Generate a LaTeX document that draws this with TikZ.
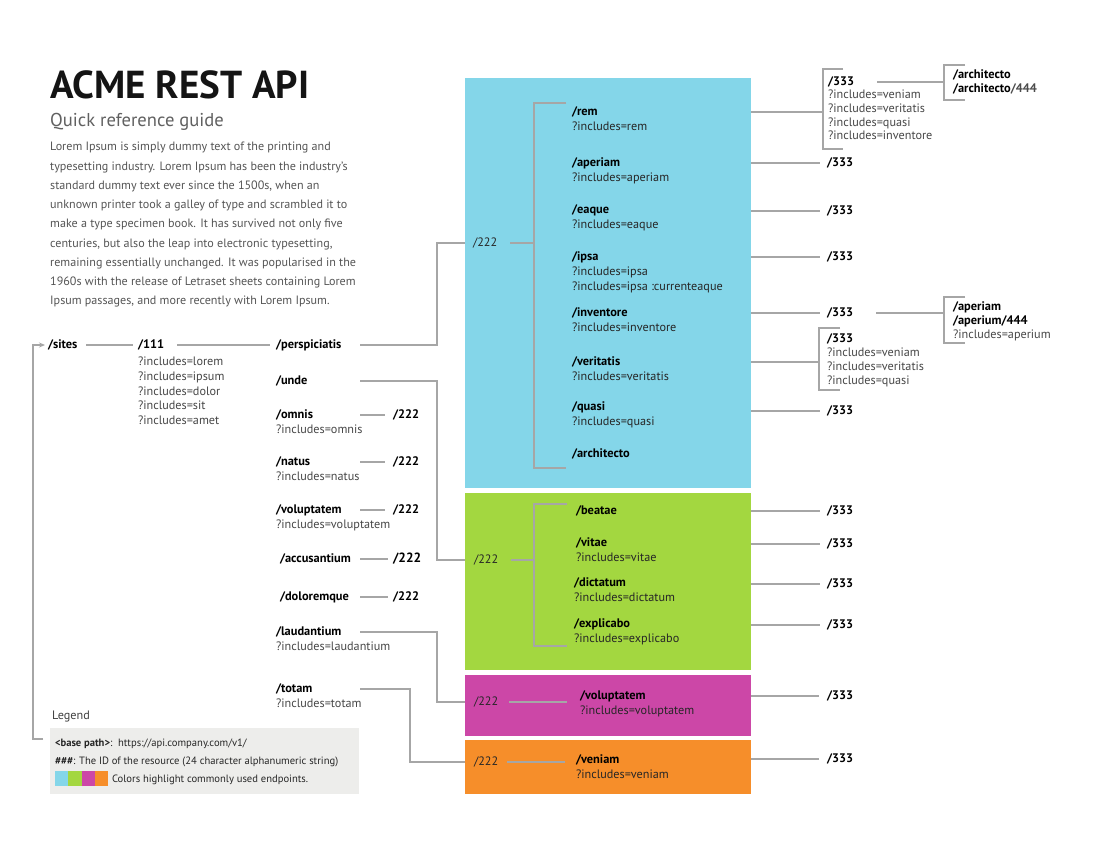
\documentclass[tikz,border=0pt]{standalone}
\usepackage{fontspec}
\setmainfont{PT Sans}
\usetikzlibrary{positioning,arrows.meta}

\definecolor{apiblue}{RGB}{132,214,233}
\definecolor{apigreen}{RGB}{163,215,64}
\definecolor{apipink}{RGB}{204,71,167}
\definecolor{apiorange}{RGB}{246,142,42}
\definecolor{linkgray}{RGB}{166,166,166}
\definecolor{notegray}{RGB}{237,237,235}
\definecolor{copygray}{RGB}{85,85,85}

\begin{document}
\begin{tikzpicture}
    [x=1pt, y=-1pt,
    % STYLES
    % The res style is used for the bold resource names
    res/.style={anchor=west, inner sep=0pt, outer sep=0pt, text height=9pt, text depth=2.8pt, font=\bfseries\fontsize{12.4}{14}\selectfont},
    % The query style is used for the ?includes lines
    query/.style={res, font=\fontsize{12.2}{14}\selectfont, text=black!72},
    % The col style gives the left column names one width
    col/.style={res, text width=84pt, align=left},
    % The grp style is used for the /222 inside the coloured groups
    grp/.style={query, text=black!85},
    % The note style is used for the legend lines
    note/.style={query, font=\fontsize{10.6}{12}\selectfont, text=black!85},
    % The band style is used for the coloured groups
    band/.style={rectangle, anchor=north west, inner sep=0pt, outer sep=0pt, minimum width=286pt},
    % The link style is used for every connector
    link/.style={draw=linkgray, line width=1.3pt}]

    \path[use as bounding box, fill=white] (0,0) rectangle (1100,850);

    % Heading
    \node[anchor=base west, inner sep=0pt, font=\bfseries\fontsize{39}{42}\selectfont, text=black!92] (title) at (50,99) {ACME REST API};
    \node[anchor=base west, inner sep=0pt, font=\fontsize{18.6}{21}\selectfont, text=black!62] (subtitle) at (50,127) {Quick reference guide};
    \node[anchor=north west, inner sep=0pt, align=left, font=\fontsize{12.1}{19.25}\selectfont, text=copygray] (intro) at (50,142) {
    Lorem Ipsum is simply dummy text of the printing and\\
    typesetting industry. Lorem Ipsum has been the industry's\\
    standard dummy text ever since the 1500s, when an\\
    unknown printer took a galley of type and scrambled it to\\
    make a type specimen book. It has survived not only five\\
    centuries, but also the leap into electronic typesetting,\\
    remaining essentially unchanged. It was popularised in the\\
    1960s with the release of Letraset sheets containing Lorem\\
    Ipsum passages, and more recently with Lorem Ipsum.};

    % Coloured groups
    \node[band, fill=apiblue, minimum height=410pt] (blue) at (465,78) {};
    \node[band, fill=apigreen, minimum height=177pt] (green) at (465,493) {};
    \node[band, fill=apipink, minimum height=61pt] (pink) at (465,675) {};
    \node[band, fill=apiorange, minimum height=54pt] (orange) at (465,740) {};

    % Legend
    \node[anchor=base west, inner sep=0pt, font=\fontsize{12.2}{14}\selectfont, text=black!75] (legend) at (52,719) {Legend};
    \node[band, fill=notegray, minimum width=309pt, minimum height=66pt] (notebox) at (50,728) {};
    \node[note] (note1) at (55,743) {\textbf{<base path>}:\ \ https://api.company.com/v1/};
    \node[note] (note2) at (55,761) {\textbf{\#\#\#}: The ID of the resource (24 character alphanumeric string)};
    \foreach \c [count=\i from 0] in {apiblue,apigreen,apipink,apiorange}
        \fill[\c] ({55+13.25*\i},771) rectangle ++(13.25,15);
    \node[note] (note3) at (112,779) {Colors highlight commonly used endpoints.};

    % Left tree
    \node[res] (sites) at (48,345) {/sites};
    \node[res] (r111) at (138,345) {/111};
    \foreach \q [count=\i] in {lorem,ipsum,dolor,sit,amet}
        \node[query] (r111-\i) at ([yshift={-3-14.7*\i}]r111.west) {?includes=\q};
    \node[col] (persp) at (276,345) {/perspiciatis};
    \node[col] (unde) at (276,381) {/unde};
    \node[col] (omnis) at (276,415) {/omnis};
    \node[query] (omnis-q) at ([yshift=-15pt]omnis.west) {?includes=omnis};
    \node[res] (omnis-r) at (393,415) {/222};
    \node[col] (natus) at (276,462) {/natus};
    \node[query] (natus-q) at ([yshift=-15pt]natus.west) {?includes=natus};
    \node[res] (natus-r) at (393,462) {/222};
    \node[col] (volupt) at (276,510) {/voluptatem};
    \node[query] (volupt-q) at ([yshift=-15pt]volupt.west) {?includes=voluptatem};
    \node[res] (volupt-r) at (393,510) {/222};
    \node[res, text width=80pt, align=left] (accus) at (280,559) {/accusantium};
    \node[res, font=\bfseries\fontsize{13.4}{15}\selectfont] (accus-r) at (393,559) {/222};
    \node[res, text width=80pt, align=left] (dolor) at (280,597) {/doloremque};
    \node[res] (dolor-r) at (393,597) {/222};
    \node[col] (laud) at (276,632) {/laudantium};
    \node[query] (laud-q) at ([yshift=-15pt]laud.west) {?includes=laudantium};
    \node[col] (totam) at (276,689) {/totam};
    \node[query] (totam-q) at ([yshift=-15pt]totam.west) {?includes=totam};

    % Blue group
    \node[grp] (b222) at (473,243) {/222};
    \foreach \n/\y in {rem/112, aperiam/163, eaque/210, ipsa/257, inventore/313, veritatis/362, quasi/407}{
        \node[res] (\n) at (572,\y) {/\n};
        \node[grp] (\n-q) at ([yshift=-15pt]\n.west) {?includes=\n};
    }
    \node[grp] (ipsa-q2) at ([yshift=-15pt]ipsa-q.west) {?includes=ipsa :currenteaque};
    \node[res] (archi) at (572,454) {/architecto};

    % Green group
    \node[grp] (g222) at (474,560) {/222};
    \node[res] (beatae) at (576,511) {/beatae};
    \node[res] (vitae) at (576,543) {/vitae};
    \node[grp] (vitae-q) at ([yshift=-15pt]vitae.west) {?includes=vitae};
    \node[res] (dictatum) at (574,583) {/dictatum};
    \node[grp] (dictatum-q) at ([yshift=-15pt]dictatum.west) {?includes=dictatum};
    \node[res] (explicabo) at (574,624) {/explicabo};
    \node[grp] (explicabo-q) at ([yshift=-15pt]explicabo.west) {?includes=explicabo};

    % Pink and orange groups
    \node[grp] (p222) at (474,702) {/222};
    \node[res] (pvolup) at (580,696) {/voluptatem};
    \node[grp] (pvolup-q) at ([yshift=-15pt]pvolup.west) {?includes=voluptatem};
    \node[grp] (o222) at (474,762) {/222};
    \node[res] (veniam) at (576,760) {/veniam};
    \node[grp] (veniam-q) at ([yshift=-15pt]veniam.west) {?includes=veniam};

    % Right column
    \foreach \n/\y in {aperiam/163, eaque/211, ipsa/257, inventore/313, quasi/411, beatae/511, vitae/544, dictatum/584, explicabo/625, pvolup/696, veniam/759}
        \node[res] (\n-r) at (827,\y) {/333};
    \node[res] (rem-r) at (828,82) {/333};
    \foreach \q [count=\i] in {veniam,veritatis,quasi,inventore}
        \node[query] (rem-r\i) at ([yshift={-13.7*\i}]rem-r.west) {?includes=\q};
    \node[res] (veritatis-r) at (827,339) {/333};
    \foreach \q [count=\i] in {veniam,veritatis,quasi}
        \node[query] (veritatis-r\i) at ([yshift={-14*\i}]veritatis-r.west) {?includes=\q};
    \node[res] (arch) at (953,75) {/architecto};
    \node[res] (arch444) at ([yshift=-14pt]arch.west) {/architecto\textcolor{black!70}{/444}};
    \node[res] (ap4) at (953,307) {/aperiam};
    \node[res] (ap444) at ([yshift=-14pt]ap4.west) {/aperium/444};
    \node[query] (ap4-q) at ([yshift=-28pt]ap4.west) {?includes=aperium};

    % Left connectors
    \draw[link, -{Stealth[length=6pt, width=5pt]}, shorten >=3pt] ([xshift=-7pt, yshift=-11pt]notebox.north west) -| ([xshift=-15pt]sites.west) -- (sites.west);
    \path[link]
    (sites) edge[shorten <=9pt, shorten >=5pt] (r111)
    (r111) edge[shorten <=13pt, shorten >=6pt] (persp)
    (omnis) edge[shorten >=8pt] (omnis-r)
    (natus) edge[shorten >=8pt] (natus-r)
    (volupt) edge[shorten >=8pt] (volupt-r)
    (accus) edge[shorten >=5pt] (accus-r)
    (dolor) edge[shorten >=5pt] (dolor-r);
    \draw[link] (persp) -| ([xshift=-28pt]blue.west |- b222) -- (b222 -| blue.west);
    \draw[link] (unde) -| ([xshift=-28pt]green.west |- g222) -- (g222 -| green.west);
    \draw[link] (laud) -| ([xshift=-28pt]pink.west |- p222) -- (p222 -| pink.west);
    \draw[link] (totam) -| ([xshift=-55pt]orange.west |- o222) -- (o222 -| orange.west);

    % Brackets inside the groups
    \draw[link] ([xshift=-6pt, yshift=9pt]rem.west) -- ++(-32,0) |- ([xshift=-6pt, yshift=-14pt]archi.west);
    \draw[link, shorten <=13pt] (b222) -- ([xshift=-38pt]rem.west |- b222);
    \draw[link] ([xshift=-9pt, yshift=7pt]beatae.west) -- ++(-33,0) |- ([xshift=-7pt, yshift=-22pt]explicabo.west);
    \draw[link, shorten <=13pt] (g222) -- ([xshift=-42pt]beatae.west |- g222);
    \draw[link, shorten <=11pt] (p222) -- ([xshift=-13pt]pvolup.west |- p222);
    \draw[link, shorten <=9pt] (o222) -- ([xshift=-11pt]veniam.west |- o222);

    % Right connectors
    \foreach \n in {aperiam, eaque, ipsa, inventore, quasi}
        \draw[link, shorten >=7pt] (\n-r -| blue.east) -- (\n-r);
    \foreach \n in {beatae, vitae, dictatum, explicabo}
        \draw[link, shorten >=7pt] (\n-r -| green.east) -- (\n-r);
    \draw[link, shorten >=8pt] (pvolup-r -| pink.east) -- (pvolup-r);
    \draw[link, shorten >=8pt] (veniam-r -| orange.east) -- (veniam-r);
    \draw[link] (rem -| blue.east) -- ([xshift=-5pt]rem-r.west |- rem);
    \draw[link] ([xshift=15pt, yshift=13pt]rem-r.west) -- ++(-20,0) |- ([xshift=15pt, yshift=-67pt]rem-r.west);
    \draw[link] (veritatis -| blue.east) -- ([xshift=-8pt]veritatis-r.west |- veritatis);
    \draw[link] ([xshift=13pt, yshift=11pt]veritatis-r.west) -- ++(-21,0) |- ([xshift=13pt, yshift=-51pt]veritatis-r.west);
    \draw[link] ([xshift=49pt]rem-r.west) -- ([xshift=-9pt]arch.west |- rem-r.west);
    \draw[link] ([xshift=12pt, yshift=10pt]arch.west) -- ++(-21,0) |- ([xshift=12pt, yshift=-25pt]arch.west);
    \draw[link] ([xshift=49pt]inventore-r.west) -- ([xshift=-9pt]ap4.west |- inventore-r.west);
    \draw[link] ([xshift=12pt, yshift=10pt]ap4.west) -- ++(-21,0) |- ([xshift=12pt, yshift=-36pt]ap4.west);
\end{tikzpicture}
\end{document}
